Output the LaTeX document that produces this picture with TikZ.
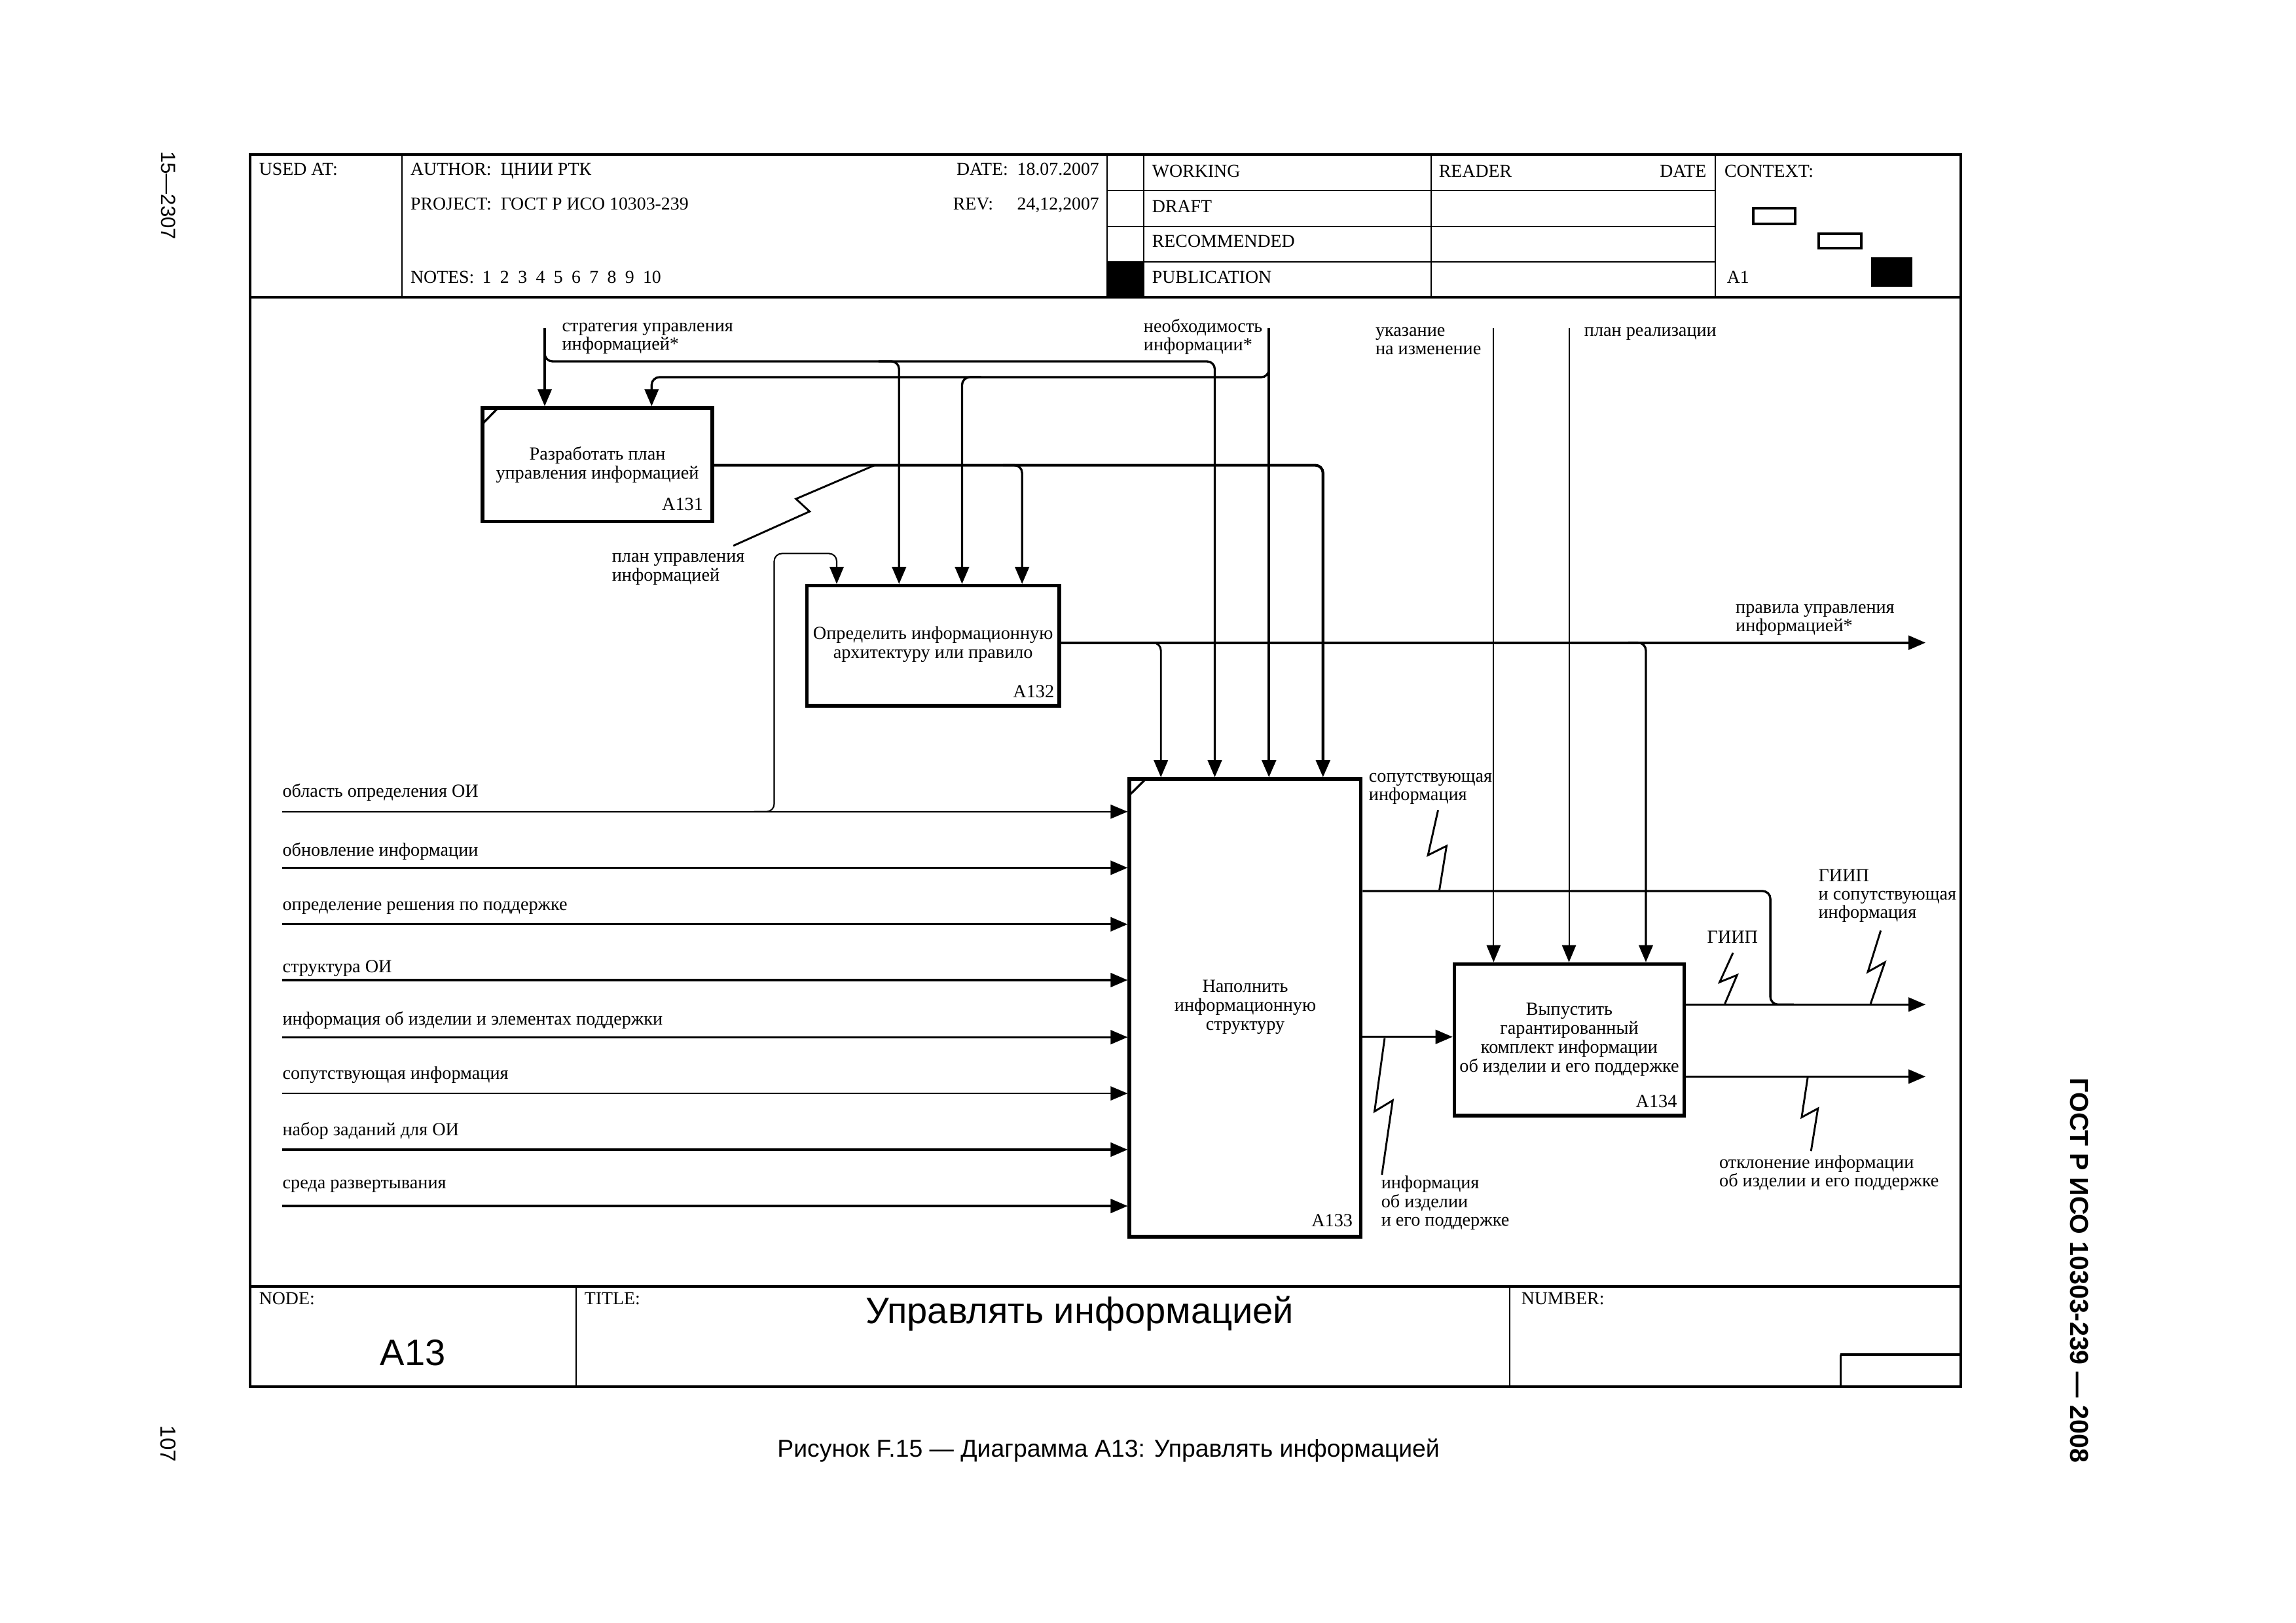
\documentclass[tikz,border=0pt]{standalone}
\usepackage{fontspec}
\setmainfont{Liberation Serif}
\newfontfamily\arialf{Liberation Sans}
\usetikzlibrary{arrows.meta,fit}
\newcommand\lblfont{\fontsize{6.8}{6.8}\selectfont\lineskiplimit=-10pt}
\newcommand\boxfont{\fontsize{6.8}{7}\selectfont\lineskiplimit=-10pt}
\newcommand\hdrfont{\fontsize{6.7}{7}\selectfont}
\newcommand\cstack[1]{\vtop{\lineskiplimit=-10pt\halign{\hfil##\hfil\cr#1\crcr}}}
\newcommand\lstack[1]{\vtop{\lineskiplimit=-10pt\halign{##\hfil\cr#1\crcr}}}
\tikzset{
  box/.style={draw, line width=1.3pt, inner sep=0pt},
  arr/.style={line width=0.8pt, -{Triangle[length=2.2mm,width=1.8mm]}, rounded corners=0.1cm},
  thinarr/.style={arr, line width=0.5pt},
  ln/.style={line width=0.8pt, rounded corners=0.1cm},
  squig/.style={line width=0.7pt},
  lbl/.style={inner sep=0pt, anchor=base west, font=\lblfont},
  btxt/.style={inner sep=0pt, anchor=base, font=\boxfont},
  bnum/.style={inner sep=0pt, anchor=base east, font=\boxfont},
  hdr/.style={inner sep=0pt, anchor=base west, font=\hdrfont},
  hdre/.style={inner sep=0pt, anchor=base east, font=\hdrfont},
  frame/.style={line width=1pt},
  fline/.style={line width=0.6pt},
}
\begin{document}
\begin{tikzpicture}[x=0.018941cm, y=-0.018941cm]
\fill[white] (0,0) rectangle (1568,1108);
\useasboundingbox (0,0) rectangle (1568,1108);

% ---------- frame ----------
\draw[frame] (170.8,105.5) rectangle (1339.1,947);
\draw[frame] (170.8,203) -- (1339.1,203);
\draw[frame] (170.8,878.5) -- (1339.1,878.5);
\draw[fline] (274.5,105.5) -- (274.5,203);
\draw[fline] (756,105.5) -- (756,203);
\draw[fline] (781,105.5) -- (781,203);
\draw[fline] (977.4,105.5) -- (977.4,203);
\draw[fline] (1171.5,105.5) -- (1171.5,203);
\draw[fline] (756,130.2) -- (1171.5,130.2);
\draw[fline] (756,154.8) -- (1171.5,154.8);
\draw[fline] (756,178.9) -- (1171.5,178.9);
\fill (756,178.9) rectangle (781,203);
\draw[line width=1pt] (1197.5,142) rectangle (1226,153);
\draw[line width=1pt] (1242,159.6) rectangle (1271,169.5);
\fill (1278,175.5) rectangle (1306,196);
\draw[fline] (393.5,878.5) -- (393.5,947);
\draw[fline] (1031,878.5) -- (1031,947);
\draw[frame] (1257,925) -- (1339.1,925);
\draw[fline] (1257,925) -- (1257,947);

% ---------- header texts ----------
\node[hdr] (h1) at (176.6,119.5) {USED AT:};
\node[hdr] (h2) at (280,119.5) {AUTHOR:\ \ ЦНИИ РТК};
\node[hdre] (h3) at (751,119.5) {DATE:\ \ 18.07.2007};
\node[hdr] (h4) at (280,143.1) {PROJECT:\ \ ГОСТ Р ИСО 10303-239};
\node[hdr] (h5) at (650.5,143.1) {REV:};
\node[hdre] (h6) at (751,143.1) {24,12,2007};
\node[hdr] (h7) at (280,193.5) {NOTES:};
\foreach \d [count=\i] in {1,2,3,4,5,6,7,8,9}
  \node[hdr] (nt\i) at ({329+12.2*(\i-1)},193.5) {\d};
\node[hdr] (nt10) at (438.7,193.5) {10};
\node[hdr] (h8) at (786.5,121) {WORKING};
\node[hdr] (h9) at (786.5,145) {DRAFT};
\node[hdr] (h10) at (786.5,168.6) {RECOMMENDED};
\node[hdr] (h11) at (786.5,193.5) {PUBLICATION};
\node[hdr] (h12) at (982.3,121) {READER};
\node[hdre] (h13) at (1165.7,121) {DATE};
\node[hdr] (h14) at (1177.3,121) {CONTEXT:};
\node[hdr] (h15) at (1179,193.5) {A1};
\node[hdr] (h16) at (176.6,890.7) {NODE:};
\node[hdr] (h17) at (398.8,890.7) {TITLE:};
\node[hdr] (h18) at (1038.6,890.7) {NUMBER:};
\node[inner sep=0pt, anchor=base, font=\arialf\fontsize{13.5}{14}\selectfont] (nodeA13) at (282,932.6) {A13};
\node[inner sep=0pt, anchor=base, font=\arialf\fontsize{13.5}{14}\selectfont] (title) at (737.4,903.7) {Управлять информацией};

% ---------- outside texts ----------
\node[inner sep=0pt, rotate=-90, font=\arialf\fontsize{7.5}{8}\selectfont] (pg1) at (115,133.5) {15—2307};
\node[inner sep=0pt, rotate=-90, font=\arialf\fontsize{8}{9}\selectfont] (pg2) at (115,986) {107};
\node[inner sep=0pt, rotate=-90, font=\arialf\bfseries\fontsize{9.5}{10}\selectfont] (gost) at (1420,867.5) {ГОСТ Р ИСО 10303-239 — 2008};
\node[inner sep=0pt, anchor=base, font=\arialf\fontsize{9}{10}\selectfont] (cap) at (757,995) {Рисунок F.15 — Диаграмма A13: Управлять информацией};

% ---------- boxes ----------
\node[box, fit={(329.5,278.6) (486.5,356)}] (A131) {};
\node[box, fit={(551,400) (723.4,482)}] (A132) {};
\node[box, fit={(771.3,532) (929.4,844.6)}] (A133) {};
\node[box, fit={(993.2,658.3) (1150.3,761.9)}] (A134) {};
\draw[line width=0.8pt] (329.5,289.5) -- (339.5,279.2);
\draw[line width=0.8pt] (771.3,543) -- (781.8,532.6);

\node[btxt] (t131) at (408,314.1) {\cstack{Разработать план\cr управления информацией}};
\node[btxt] (t132) at (637.2,436.7) {\cstack{Определить информационную\cr архитектуру или правило}};
\node[btxt] (t133) at (850.4,677.6) {\cstack{Наполнить\cr информационную\cr структуру}};
\node[btxt] (t134) at (1071.7,693.2) {\cstack{Выпустить\cr гарантированный\cr комплект информации\cr об изделии и его поддержке}};
\node[bnum] (n131) at (480.5,348.6) {A131};
\node[bnum] (n132) at (720.3,476.3) {A132};
\node[bnum] (n133) at (924.1,837.7) {A133};
\node[bnum] (n134) at (1145.6,756.4) {A134};

% ---------- controls ----------
\coordinate (s0) at (372,224);
\draw[arr] (s0) -- (372,0 |- A131.north);
\draw[arr] (372,236) -- (372,246.8) -- (829.6,246.8) -- (829.6,0 |- A133.north);
\draw[arr] (600,246.8) -- (614,246.8) -- (614,0 |- A132.north);

\coordinate (n0) at (866.6,224);
\draw[arr, line width=1pt] (n0) -- (866.6,0 |- A133.north);
\draw[arr] (866.6,244) -- (866.6,257.6) -- (445,257.6) -- (445,0 |- A131.north);
\draw[arr] (670,257.6) -- (657,257.6) -- (657,0 |- A132.north);

\draw[arr, line width=1pt] (A131.east |- 0,317.7) -- (903.5,317.7) -- (903.5,0 |- A133.north);
\draw[arr] (685,317.7) -- (698,317.7) -- (698,0 |- A132.north);

\draw[squig] (597.3,317.7) -- (543.6,340.7) -- (552.9,349.3) -- (500.8,372.7);

\coordinate (u0) at (1020,224);
\coordinate (r0) at (1071.5,224);
\draw[thinarr] (u0) -- (1020,0 |- A134.north);
\draw[thinarr] (r0) -- (1071.5,0 |- A134.north);

% A132 output
\coordinate (rulesEnd) at (1315,438.9);
\draw[arr, line width=0.9pt] (A132.east |- 0,438.9) -- (rulesEnd);
\draw[arr, line width=0.7pt] (780,438.9) -- (792.8,438.9) -- (792.8,0 |- A133.north);
\draw[arr] (1112,438.9) -- (1124,438.9) -- (1124,0 |- A134.north);

% ---------- inputs of A133 ----------
\coordinate (i1) at (192.6,554.3);
\coordinate (i2) at (192.6,592.6);
\coordinate (i3) at (192.6,631.2);
\coordinate (i4) at (192.6,669.3);
\coordinate (i5) at (192.6,708.3);
\coordinate (i6) at (192.6,746.7);
\coordinate (i7) at (192.6,785.1);
\coordinate (i8) at (192.6,823.6);
\draw[thinarr] (i1) -- (A133.west |- i1);
\draw[arr] (i2) -- (A133.west |- i2);
\draw[arr] (i3) -- (A133.west |- i3);
\draw[arr] (i4) -- (A133.west |- i4);
\draw[arr] (i5) -- (A133.west |- i5);
\draw[thinarr] (i6) -- (A133.west |- i6);
\draw[arr] (i7) -- (A133.west |- i7);
\draw[arr] (i8) -- (A133.west |- i8);
\draw[thinarr] (515,554.3) -- (528.7,554.3) -- (528.7,378) -- (571.4,378) -- (571.4,0 |- A132.north);

% ---------- outputs ----------
\coordinate (o1) at (1315,686);
\coordinate (o2) at (1315,735.2);
\draw[ln] (A133.east |- 0,608.5) -- (1209,608.5) -- (1209,686) -- (1225,686);
\draw[arr] (A134.east |- o1) -- (o1);
\draw[arr] (A133.east |- 0,708.1) -- (A134.west |- 0,708.1);
\draw[arr] (A134.east |- o2) -- (o2);

\draw[squig] (982.1,553.2) -- (975.2,584) -- (987.9,577.7) -- (983,607.8);
\draw[squig] (945.6,709) -- (938.7,759) -- (951.1,751.5) -- (943.7,802.4);
\draw[squig] (1183.5,650.7) -- (1174.4,670.7) -- (1186.3,665.9) -- (1178,685.4);
\draw[squig] (1284.4,635.5) -- (1275.6,663.7) -- (1287.2,657.2) -- (1277.5,685.4);
\draw[squig] (1234.6,735.2) -- (1230.4,763) -- (1241.5,757) -- (1236.8,786.1);

% ---------- labels ----------
\node[lbl] (l1) at (383.5,226.5) {\lstack{стратегия управления\cr информацией*}};
\node[lbl] (l2) at (780.7,227) {\lstack{необходимость\cr информации*}};
\node[lbl] (l3) at (939,229.7) {\lstack{указание\cr на изменение}};
\node[lbl] (l4) at (1081.6,229.7) {план реализации};
\node[lbl] (l5) at (417.6,384) {\lstack{план управления\cr информацией}};
\node[lbl] (l6) at (1185,418.5) {\lstack{правила управления\cr информацией*}};
\node[lbl] (in1) at (192.6,544.3) {область определения ОИ};
\node[lbl] (in2) at (192.6,584.8) {обновление информации};
\node[lbl] (in3) at (192.6,621.6) {определение решения по поддержке};
\node[lbl] (in4) at (192.6,664) {структура ОИ};
\node[lbl] (in5) at (192.6,699.9) {информация об изделии и элементах поддержки};
\node[lbl] (in6) at (192.6,737.2) {сопутствующая информация};
\node[lbl] (in7) at (192.6,775.7) {набор заданий для ОИ};
\node[lbl] (in8) at (192.6,811.9) {среда развертывания};
\node[lbl] (l7) at (934.5,534) {\lstack{сопутствующая\cr информация}};
\node[lbl] (l8) at (942.9,811.9) {\lstack{информация\cr об изделии\cr и его поддержке}};
\node[lbl] (l9) at (1165.5,644) {ГИИП};
\node[lbl] (l10) at (1241.5,602) {\lstack{ГИИП\cr и сопутствующая\cr информация}};
\node[lbl] (l11) at (1173.8,797.8) {\lstack{отклонение информации\cr об изделии и его поддержке}};
\end{tikzpicture}
\end{document}
